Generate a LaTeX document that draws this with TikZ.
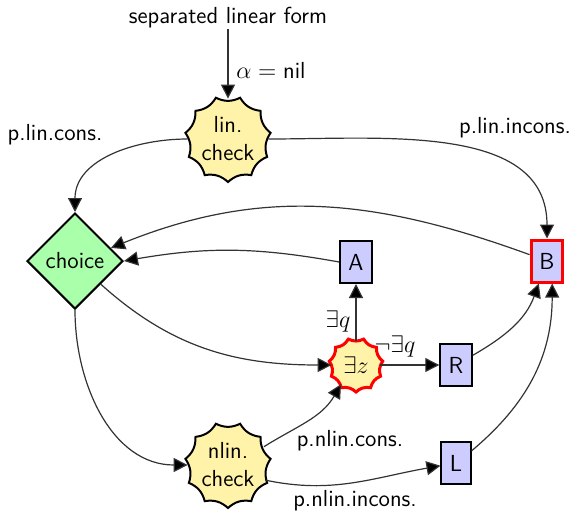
\documentclass[tikz,border=0pt]{standalone}
\usepackage{fontspec}
\usetikzlibrary{shapes.geometric,arrows.meta,backgrounds}
\definecolor{burstfill}{HTML}{FFF3AA}
\definecolor{choicefill}{HTML}{AAFFAA}
\definecolor{boxfill}{HTML}{CCCCFF}
% scalloped outline (11 points, concave sides) around a named node
\newcommand\scallopoutline[3]{%
  \draw[shift={(#1.center)},#3] (270:#2)
    \foreach \k in {1,...,11} { to[bend left=26] ({270+\k*360/11}:#2) } -- cycle;}
\tikzset{
  txt/.style={inner sep=0pt},
  burstnode/.style={circle, minimum size=40pt, inner sep=0pt, align=center},
  smallburst/.style={circle, minimum size=24pt, inner sep=0pt},
  burstline/.style={draw=black, fill=burstfill, line width=1pt, line join=miter},
  redburstline/.style={draw=red, fill=burstfill, line width=1.5pt, line join=miter},
  choicenode/.style={diamond, aspect=1, minimum size=48pt, inner sep=0pt,
    draw=black, fill=choicefill, line width=1pt},
  boxnode/.style={rectangle, draw=black, fill=boxfill, line width=1pt,
    minimum height=21pt, inner xsep=4.2pt},
  redbox/.style={draw=red, line width=1.5pt},
  conn/.style={draw=black!80, line width=0.6pt,
    -{Triangle[length=7pt,width=7pt,fill=black]}},
}
\begin{document}
\begin{tikzpicture}[x=0.5pt,y=-0.5pt,
  font=\fontsize{11.6}{14}\selectfont\sffamily]
\useasboundingbox (0,0) rectangle (573,514);

% states
\node[txt] (src) at (228,18) {separated linear form};
\node[burstnode] (lin) at (228,139) {lin.\\check};
\node[choicenode] (choice) at (75,261) {choice};
\node[boxnode] (A) at (356,262) {A};
\node[boxnode,redbox] (B) at (547,261) {B};
\node[smallburst] (ez) at (356,365) {$\exists z$};
\node[boxnode] (R) at (456,365) {R};
\node[boxnode] (L) at (456,463) {L};
\node[burstnode] (nlin) at (228,465) {nlin.\\check};

\begin{scope}[on background layer]
  \scallopoutline{lin}{21.5pt}{burstline}
  \scallopoutline{nlin}{21.5pt}{burstline}
  \scallopoutline{ez}{13.5pt}{redburstline}
\end{scope}

% labels
\node[txt,anchor=west] (lalpha) at (236,70) {$\alpha=\mbox{nil}$};
\node[txt] (lcons) at (55,135) {p.lin.cons.};
\node[txt] (lincons) at (515,128) {p.lin.incons.};
\node[txt] (lq) at (338,321) {$\exists q$};
\node[txt] (lnq) at (395,346) {$\neg\exists q$};
\node[txt] (ncons) at (350,441) {p.nlin.cons.};
\node[txt] (nincons) at (355,501) {p.nlin.incons.};

% transitions
\draw[conn] (src) -- (lin);
\draw[conn] (lin.west) to[out=180,in=90] (choice.north);
\draw[conn] (lin.east) to[out=0,in=90] (B.north);
\draw[conn] (B.160) to[out=160,in=22] (choice.20);
\draw[conn] (A.west) to[bend right=10] (choice.east);
\draw[conn] (choice.-42) to[out=-42,in=180] (ez.west);
\draw[conn] (choice.south) to[out=-90,in=180] (nlin.west);
\draw[conn] (nlin.27) to[out=32,in=-120] (ez.-128);
\draw[conn] (nlin.-22) to[out=-12,in=190] (L.190);
\draw[conn] (ez.north) -- (A.south);
\draw[conn] (ez.east) -- (R.west);
\draw[conn] (R.30) to[out=30,in=-110] (B.250);
\draw[conn] (L.38) to[out=40,in=-90] (B.283);
\end{tikzpicture}
\end{document}
